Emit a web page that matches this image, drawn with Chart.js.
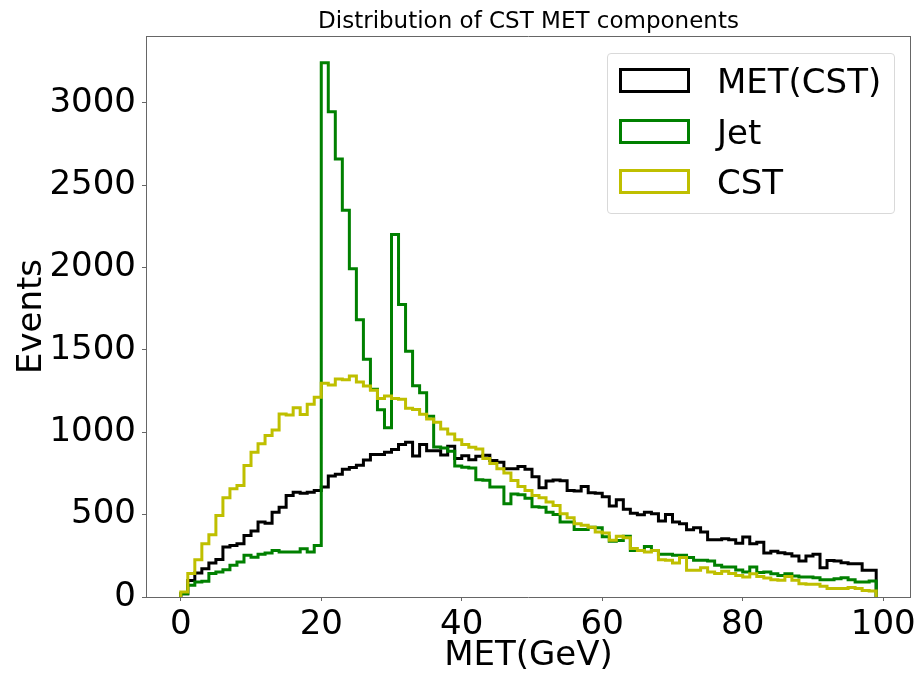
<!DOCTYPE html>
<html>
<head>
<meta charset="utf-8">
<script src="https://cdn.jsdelivr.net/npm/chart.js@4"></script>
<style>
  html, body { margin: 0; padding: 0; background: #fff; }
  #wrap { position: relative; width: 920px; height: 675px; }
  #legend { position: absolute; left: 607px; top: 53px; width: 286px; height: 159px; border: 1px solid #d9d9d9; border-radius: 4px; background: rgba(255,255,255,0.8); font-family: 'DejaVu Sans', sans-serif; font-size: 34px; color: #000; }
  .item { position: absolute; left: 11px; height: 25px; width: 270px; }
  .swatch { position: absolute; left: 0; top: 0; width: 71px; height: 25px; box-sizing: border-box; border: 3px solid; }
  .label { position: absolute; left: 98px; top: 1px; line-height: 25px; white-space: nowrap; }
</style>
</head>
<body>
<div id="wrap">
  <canvas id="chart" width="920" height="675"></canvas>
  <div id="legend"></div>
</div>
<script>
// ===== DATA =====
// histogram counts, one value per 1 GeV bin starting at 0
const binWidth = 1;
const metCounts = [
  20, 100, 145, 172, 206, 228, 303, 313, 323, 374,
  400, 455, 448, 515, 545, 616, 636, 630, 636, 647,
  668, 735, 745, 775, 786, 800, 832, 865, 865, 878,
  896, 925, 940, 856, 925, 887, 887, 862, 915, 840,
  857, 833, 855, 860, 828, 818, 778, 778, 792, 775,
  730, 663, 704, 710, 705, 647, 643, 671, 633, 630,
  608, 553, 590, 533, 509, 499, 515, 505, 461, 501,
  455, 445, 408, 420, 394, 348, 348, 354, 348, 327,
  364, 323, 333, 267, 277, 269, 263, 249, 218, 249,
  259, 178, 222, 218, 208, 202, 202, 162, 162
];
const jetCounts = [
  20, 71, 91, 95, 142, 152, 166, 192, 212, 253,
  242, 259, 267, 283, 273, 273, 273, 293, 273, 313,
  3243, 2945, 2659, 2348, 1992, 1683, 1443, 1261, 1136, 1027,
  2201, 1775, 1492, 1283, 1240, 1097, 910, 905, 885, 795,
  787, 783, 712, 708, 668, 668, 566, 625, 620, 600,
  548, 545, 515, 500, 455, 455, 410, 410, 424, 420,
  366, 339, 343, 368, 283, 283, 307, 283, 259, 259,
  253, 253, 239, 223, 223, 219, 192, 182, 182, 164,
  152, 182, 148, 152, 141, 131, 141, 127, 121, 121,
  117, 105, 105, 111, 117, 105, 91, 91, 97
];
const cstCounts = [
  30, 142, 226, 323, 378, 495, 602, 657, 677, 798,
  879, 930, 980, 1014, 1111, 1105, 1148, 1107, 1170, 1212,
  1297, 1287, 1323, 1319, 1341, 1305, 1280, 1255, 1205, 1220,
  1205, 1200, 1145, 1138, 1110, 1081, 1061, 1020, 990, 955,
  925, 909, 899, 840, 810, 778, 752, 707, 671, 647,
  616, 602, 576, 556, 505, 481, 445, 435, 424, 394,
  388, 345, 368, 360, 295, 283, 273, 283, 226, 223,
  206, 239, 162, 162, 178, 152, 142, 156, 142, 130,
  121, 141, 125, 115, 105, 101, 125, 101, 81, 77,
  77, 65, 51, 51, 51, 57, 51, 40, 36
];
const xTickValues = [0, 20, 40, 60, 80, 100];
const yTickValues = [0, 500, 1000, 1500, 2000, 2500, 3000];

const seriesNames = ['MET(CST)', 'Jet', 'CST'];
const seriesColors = ['#000000', '#008000', '#bfbf00'];

// ===== HELPERS =====
// matplotlib "step" outline: up from 0 at first edge, flat across each bin, down to 0 at last edge
function stepPoints(counts) {
  const pts = [{ x: 0, y: 0 }];
  counts.forEach((c, i) => pts.push({ x: i * binWidth, y: c }));
  pts.push({ x: counts.length * binWidth, y: 0 });
  return pts;
}

const nBins = metCounts.length;
const xMin = -0.05 * nBins * binWidth, xMax = 1.05 * nBins * binWidth;
const yMax = 1.05 * Math.max(...metCounts, ...jetCounts, ...cstCounts);
const spine = '#666';
const bigFont = { family: 'DejaVu Sans', size: 34 };

function fixTicks(values) {
  return s => { s.ticks = values.map(v => ({ value: v })); };
}
function fixSize(dim, px) {
  return s => { s[dim] = px; };
}
const plainLabel = v => String(v);

// ===== LEGEND =====
(function renderLegend() {
  const box = document.getElementById('legend');
  seriesNames.forEach((n, i) => {
    const div = document.createElement('div');
    div.className = 'item';
    div.style.top = (14 + i * 50.5) + 'px';
    div.innerHTML = `<div class="swatch" style="border-color:${seriesColors[i]}"></div><div class="label">${n}</div>`;
    box.appendChild(div);
  });
})();

// ===== CHART =====
const counts = [metCounts, jetCounts, cstCounts];
const datasets = seriesNames.map((n, i) => ({
  label: n,
  data: stepPoints(counts[i]),
  borderColor: seriesColors[i],
  borderWidth: 3,
  stepped: 'before',
  pointRadius: 0,
  fill: false,
  borderJoinStyle: 'miter',
  borderCapStyle: 'butt',
  order: 3 - i
}));

new Chart(document.getElementById('chart').getContext('2d'), {
  type: 'line',
  data: { datasets },
  options: {
    responsive: false,
    animation: false,
    layout: { padding: 0 },
    plugins: { legend: { display: false }, tooltip: { enabled: false }, title: { display: false } },
    scales: {
      x: {
        type: 'linear', position: 'bottom', min: xMin, max: xMax,
        afterBuildTicks: fixTicks(xTickValues),
        afterFit: fixSize('height', 78),
        ticks: { autoSkip: false, maxRotation: 0, padding: 4, color: '#000', font: bigFont, callback: plainLabel },
        grid: { display: true, drawOnChartArea: false, drawTicks: true, tickLength: 4, color: spine },
        border: { display: true, color: spine, width: 1 },
        title: { display: true, text: 'MET(GeV)', color: '#000', font: bigFont, padding: { top: 0, bottom: -2 } }
      },
      x2: {
        type: 'linear', position: 'top', min: xMin, max: xMax,
        afterFit: fixSize('height', 36),
        ticks: { display: false },
        grid: { display: false },
        border: { display: true, color: spine, width: 1 },
        title: { display: true, text: 'Distribution of CST MET components', color: '#000',
                 font: { family: 'DejaVu Sans', size: 23 }, padding: { top: 8, bottom: 0 } }
      },
      y: {
        type: 'linear', position: 'left', min: 0, max: yMax,
        afterBuildTicks: fixTicks(yTickValues),
        afterFit: fixSize('width', 146),
        ticks: { autoSkip: false, padding: 6, color: '#000', font: bigFont, callback: plainLabel },
        grid: { display: true, drawOnChartArea: false, drawTicks: true, tickLength: 4, color: spine },
        border: { display: true, color: spine, width: 1 },
        title: { display: true, text: 'Events', color: '#000', font: bigFont, padding: { top: 12, bottom: 0 } }
      },
      y2: {
        type: 'linear', position: 'right', min: 0, max: yMax,
        afterFit: fixSize('width', 6),
        ticks: { display: false },
        grid: { display: false },
        border: { display: true, color: spine, width: 1 }
      }
    }
  }
});
</script>
</body>
</html>
